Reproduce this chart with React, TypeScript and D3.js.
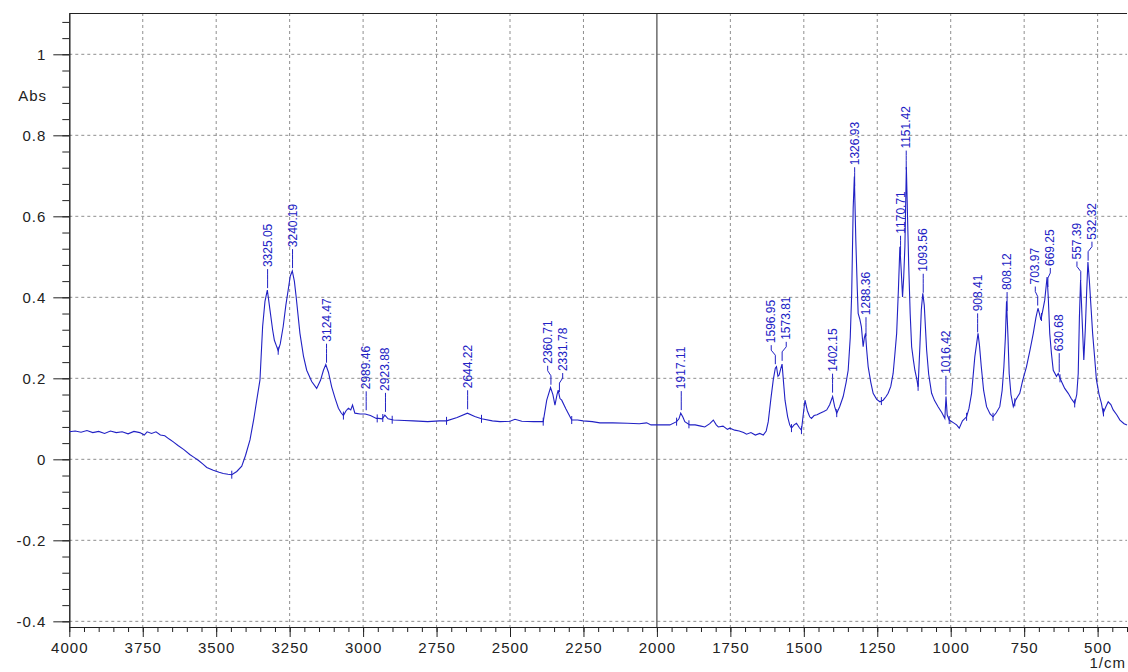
import React, { useEffect, useRef } from 'react';
import * as d3 from 'd3';

// FTIR spectrum (wavenumber in 1/cm, absorbance)
const spectrumWave = [
  4000, 3980, 3960, 3940, 3920, 3900, 3880, 3860, 3840, 3820, 3800, 3780, 3760, 3745, 3735, 3720,
  3705, 3690, 3675, 3660, 3646, 3630, 3610, 3590, 3578, 3560, 3545, 3532, 3510, 3490, 3476, 3460,
  3447, 3430, 3413, 3400, 3385, 3372, 3362, 3351, 3342, 3334, 3326, 3317, 3308, 3302, 3295, 3289,
  3282, 3272, 3263, 3255, 3248, 3241, 3234, 3228, 3215, 3203, 3192, 3175, 3158, 3145, 3135, 3127,
  3118, 3107, 3095, 3084, 3075, 3067, 3058, 3050, 3042, 3036, 3028, 3010, 2993, 2975, 2955, 2948,
  2935, 2926, 2915, 2897, 2860, 2829, 2780, 2740, 2716, 2680, 2645, 2620, 2597, 2560, 2534, 2500,
  2483, 2460, 2420, 2387, 2375, 2362, 2354, 2347, 2340, 2336, 2330, 2324, 2310, 2290, 2270, 2251,
  2220, 2194, 2150, 2100, 2060, 2035, 2020, 2000, 1975, 1956, 1933, 1925, 1919, 1912, 1905, 1888,
  1870, 1850, 1837, 1820, 1808, 1798, 1791, 1775, 1760, 1752, 1735, 1720, 1705, 1695, 1680, 1665,
  1650, 1638, 1628, 1621, 1612, 1604, 1597, 1593, 1588, 1584, 1578, 1574, 1569, 1564, 1555, 1548,
  1542, 1533, 1525, 1515, 1508, 1502, 1496, 1488, 1480, 1474, 1465, 1455, 1445, 1432, 1422, 1412,
  1402, 1395, 1388, 1378, 1366, 1356, 1349, 1342, 1337, 1332, 1328, 1323, 1318, 1315, 1309, 1304,
  1298, 1294, 1290, 1286, 1281, 1272, 1264, 1252, 1241, 1230, 1220, 1213, 1204, 1196, 1190, 1184,
  1178, 1173, 1168, 1164, 1160, 1156, 1151, 1147, 1143, 1138, 1133, 1127, 1122, 1116, 1111, 1105,
  1100, 1095, 1090, 1082, 1075, 1065, 1055, 1043, 1030, 1020, 1016, 1012, 1005, 990, 980, 971,
  960, 946, 938, 929, 918, 911, 907, 902, 896, 888, 878, 866, 856, 845, 833, 825,
  819, 814, 810, 805, 801, 795, 787, 780, 772, 765, 755, 742, 730, 719, 710, 703,
  698, 693, 686, 680, 672, 668, 663, 657, 651, 640, 634, 628, 623, 612, 600, 590,
  578, 571, 566, 562, 558, 553, 547, 542, 537, 533, 528, 522, 517, 510, 504, 495,
  487, 481, 472, 464, 455, 447, 435, 424, 410, 400,
];
const spectrumAbs = [
  0.068, 0.070, 0.067, 0.071, 0.066, 0.069, 0.064, 0.070, 0.066, 0.068, 0.063, 0.069, 0.066, 0.060, 0.068, 0.064,
  0.068, 0.060, 0.058, 0.050, 0.043, 0.034, 0.024, 0.012, 0.006, -0.003, -0.012, -0.020, -0.027, -0.032, -0.035, -0.037,
  -0.038, -0.030, -0.017, 0.010, 0.048, 0.100, 0.146, 0.196, 0.328, 0.390, 0.418, 0.369, 0.320, 0.294, 0.280, 0.268,
  0.285, 0.328, 0.380, 0.418, 0.452, 0.465, 0.440, 0.402, 0.311, 0.255, 0.220, 0.192, 0.175, 0.195, 0.220, 0.234,
  0.215, 0.179, 0.150, 0.126, 0.115, 0.108, 0.120, 0.126, 0.122, 0.134, 0.114, 0.112, 0.112, 0.108, 0.101, 0.101,
  0.100, 0.109, 0.100, 0.097, 0.096, 0.095, 0.093, 0.095, 0.095, 0.103, 0.114, 0.106, 0.100, 0.095, 0.093, 0.094,
  0.099, 0.094, 0.093, 0.093, 0.146, 0.177, 0.160, 0.134, 0.160, 0.171, 0.150, 0.146, 0.125, 0.097, 0.097, 0.095,
  0.093, 0.090, 0.090, 0.089, 0.088, 0.090, 0.085, 0.085, 0.085, 0.085, 0.093, 0.100, 0.114, 0.105, 0.093, 0.085,
  0.085, 0.082, 0.080, 0.088, 0.097, 0.085, 0.080, 0.082, 0.074, 0.077, 0.072, 0.070, 0.066, 0.062, 0.066, 0.060,
  0.064, 0.060, 0.070, 0.093, 0.150, 0.196, 0.225, 0.229, 0.205, 0.208, 0.225, 0.235, 0.190, 0.146, 0.105, 0.085,
  0.077, 0.085, 0.089, 0.078, 0.072, 0.110, 0.146, 0.120, 0.105, 0.101, 0.108, 0.110, 0.114, 0.118, 0.122, 0.135,
  0.155, 0.130, 0.114, 0.130, 0.155, 0.190, 0.220, 0.300, 0.410, 0.620, 0.698, 0.541, 0.420, 0.360, 0.345, 0.327,
  0.278, 0.300, 0.311, 0.270, 0.229, 0.190, 0.163, 0.148, 0.142, 0.146, 0.155, 0.163, 0.180, 0.212, 0.260, 0.311,
  0.420, 0.525, 0.460, 0.401, 0.450, 0.525, 0.722, 0.600, 0.480, 0.360, 0.278, 0.245, 0.220, 0.200, 0.179, 0.278,
  0.370, 0.410, 0.380, 0.270, 0.210, 0.163, 0.145, 0.130, 0.115, 0.101, 0.155, 0.110, 0.097, 0.090, 0.085, 0.077,
  0.095, 0.105, 0.125, 0.163, 0.253, 0.290, 0.311, 0.280, 0.229, 0.170, 0.130, 0.112, 0.105, 0.115, 0.130, 0.170,
  0.229, 0.300, 0.390, 0.300, 0.212, 0.160, 0.130, 0.145, 0.155, 0.163, 0.195, 0.229, 0.270, 0.311, 0.350, 0.373,
  0.360, 0.344, 0.370, 0.393, 0.450, 0.400, 0.311, 0.260, 0.220, 0.205, 0.212, 0.200, 0.192, 0.175, 0.163, 0.150,
  0.138, 0.160, 0.212, 0.350, 0.443, 0.350, 0.245, 0.320, 0.420, 0.487, 0.440, 0.370, 0.311, 0.250, 0.196, 0.160,
  0.138, 0.114, 0.130, 0.142, 0.135, 0.122, 0.110, 0.097, 0.088, 0.085,
];

const peakLabels = [
  '3325.05', '3240.19', '3124.47', '2989.46', '2923.88', '2644.22', '2360.71', '2331.78', '1917.11',
  '1596.95', '1573.81', '1402.15', '1326.93', '1288.36', '1170.71', '1151.42', '1093.56', '1016.42',
  '908.41', '808.12', '703.97', '669.25', '630.68', '557.39', '532.32',
];

// small "+" marks the software puts at the valleys
const valleyMarks = [
  3447, 3289, 3067, 2952, 2933, 2901, 2716, 2597, 2387, 2290, 1933, 1891, 1542, 1508, 1388, 1236,
  1111, 1005, 946, 856, 782, 691, 628, 578, 480,
];

const xMajorTicks = d3.range(4000, 499, -250);
const xMinorTicks = d3.range(4000, 399, -50);
const yMajorTicks = [1, 0.8, 0.6, 0.4, 0.2, 0, -0.2, -0.4];
const yMinorTicks = d3.range(-0.4, 1.1, 0.04);

const BLUE = '#2121c4';

const absAt = (w: number) => {
  for (let i = 0; i < spectrumWave.length - 1; i++) {
    const a = spectrumWave[i], b = spectrumWave[i + 1];
    if (w <= a && w >= b) {
      const t = (a - w) / (a - b);
      return spectrumAbs[i] + t * (spectrumAbs[i + 1] - spectrumAbs[i]);
    }
  }
  return spectrumAbs[spectrumAbs.length - 1];
};

const App = () => {
  const ref = useRef<SVGSVGElement>(null);

  useEffect(() => {
    const svg = d3.select(ref.current);
    svg.selectAll('*').remove();

    const x = d3.scaleLinear().domain([4000, 400]).range([69.3, 1127]);
    const y = d3.scaleLinear().domain([-0.414, 1.102]).range([627, 13]);
    const [x0, x1] = x.range();
    const [yb, yt] = y.range();

    // grid
    const grid = svg.append('g');
    grid.selectAll('.vg')
      .data(xMajorTicks.filter(d => d !== 4000 && d !== 2000))
      .enter().append('line')
      .attr('x1', d => x(d)).attr('x2', d => x(d))
      .attr('y1', yt).attr('y2', yb)
      .attr('stroke', '#8f8f8f').attr('stroke-dasharray', '3,3');
    grid.selectAll('.hg')
      .data(yMajorTicks)
      .enter().append('line')
      .attr('x1', x0).attr('x2', x1)
      .attr('y1', d => y(d)).attr('y2', d => y(d))
      .attr('stroke', '#8f8f8f').attr('stroke-dasharray', '3,3');

    // split line at 2000 and top border
    svg.append('line')
      .attr('x1', x(2000)).attr('x2', x(2000)).attr('y1', yt).attr('y2', yb)
      .attr('stroke', '#222');
    svg.append('line')
      .attr('x1', x0).attr('x2', x1).attr('y1', yt + 0.5).attr('y2', yt + 0.5)
      .attr('stroke', '#222');

    const styleAxis = (g: any) => {
      g.attr('font-family', '"Liberation Sans", Arial, sans-serif')
        .attr('font-size', 15);
      g.selectAll('text').attr('fill', '#222').attr('letter-spacing', '1');
      g.selectAll('line').attr('stroke', '#222');
      g.selectAll('path').attr('stroke', '#222');
    };

    // y axis
    svg.append('g').attr('transform', `translate(${x0},0)`)
      .call(d3.axisLeft(y).tickValues(yMinorTicks).tickSize(7).tickSizeOuter(0).tickFormat(() => ''))
      .call(styleAxis);
    svg.append('g').attr('transform', `translate(${x0},0)`)
      .call(d3.axisLeft(y).tickValues(yMajorTicks).tickSize(16).tickSizeOuter(0).tickPadding(7)
        .tickFormat(d => String(+(+d).toFixed(1))))
      .call(styleAxis);

    // x axis
    svg.append('g').attr('transform', `translate(0,${yb})`)
      .call(d3.axisBottom(x).tickValues(xMinorTicks).tickSize(5).tickSizeOuter(0).tickFormat(() => ''))
      .call(styleAxis);
    svg.append('g').attr('transform', `translate(0,${yb})`)
      .call(d3.axisBottom(x).tickValues(xMajorTicks).tickSize(10).tickSizeOuter(0).tickPadding(5)
        .tickFormat(d => String(d)))
      .call(styleAxis);

    const axisText = (t: string, tx: number, ty: number) =>
      svg.append('text').text(t)
        .attr('x', tx).attr('y', ty)
        .attr('text-anchor', 'end')
        .attr('font-family', '"Liberation Sans", Arial, sans-serif')
        .attr('font-size', 15).attr('letter-spacing', '1').attr('fill', '#222');
    axisText('Abs', 47, 101);
    axisText('1/cm', 1126, 668);

    // spectrum
    const line = d3.line<number>()
      .x((_, i) => x(spectrumWave[i]))
      .y(d => y(d));
    svg.append('path')
      .datum(spectrumAbs)
      .attr('d', line)
      .attr('fill', 'none')
      .attr('stroke', BLUE)
      .attr('stroke-width', 1.1);

    // valley marks
    svg.append('g').selectAll('line')
      .data(valleyMarks)
      .enter().append('line')
      .attr('x1', d => x(d)).attr('x2', d => x(d))
      .attr('y1', d => y(absAt(d)) - 4).attr('y2', d => y(absAt(d)) + 4)
      .attr('stroke', BLUE);

    // peak labels: spread apart where they would overlap
    const textLen = 44;
    const labels = peakLabels.map(s => {
      const w = +s;
      const px = x(w);
      const py = y(absAt(w));
      return { s, px, py, lx: px };
    });
    for (let it = 0; it < 60; it++) {
      for (let i = 0; i < labels.length - 1; i++) {
        const a = labels[i], b = labels[i + 1];
        const overlapY = Math.abs(a.py - b.py) < textLen;
        const gap = b.lx - a.lx;
        if (overlapY && gap < 15) {
          const push = (15 - gap) / 2;
          a.lx -= push;
          b.lx += push;
        }
      }
    }

    const lg = svg.append('g');
    labels.forEach(l => {
      const pts: [number, number][] = [
        [l.px, l.py - 4],
        [l.px, l.py - 13],
        [l.lx, l.py - 18],
        [l.lx, l.py - 23],
      ];
      lg.append('path')
        .attr('d', d3.line()(pts))
        .attr('fill', 'none')
        .attr('stroke', BLUE);
      lg.append('text')
        .text(l.s)
        .attr('transform', `translate(${l.lx},${l.py - 25}) rotate(-90)`)
        .attr('dominant-baseline', 'central')
        .attr('font-family', '"Liberation Sans", Arial, sans-serif')
        .attr('font-size', 12)
        .attr('fill', BLUE);
    });
  }, []);

  return (
    <svg ref={ref} width={1128} height={672}
      style={{ position: 'absolute', left: 0, top: 0, background: '#fff' }} />
  );
};

export default App;
